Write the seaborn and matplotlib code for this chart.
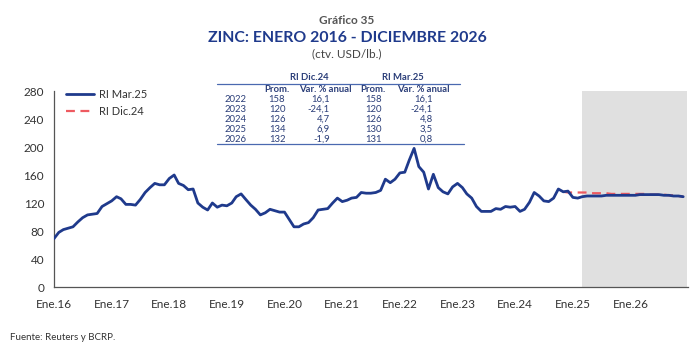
import numpy as np
import pandas as pd
import matplotlib
matplotlib.use("Agg")
import matplotlib.pyplot as plt
from matplotlib.lines import Line2D
import seaborn as sns

# ---------------- data ----------------
start_month = "2016-01-01"
# RI Mar.25: actual Jan-2016..Feb-2025 + projection Mar-2025..Dec-2026 (ctv. USD/lb.)
mar25_values = [
    69, 78, 82, 84, 86, 93, 99, 103, 104, 105, 115, 119,      # 2016
    123, 129, 126, 118, 118, 117, 125, 135, 142, 148, 146, 146,  # 2017
    155, 160, 148, 145, 139, 140, 120, 114, 110, 120, 114, 117,  # 2018
    116, 120, 129, 133, 125, 117, 111, 103, 106, 111, 109, 107,  # 2019
    107, 96, 86, 86, 90, 92, 99, 110, 111, 112, 120, 127,      # 2020
    122, 124, 127, 128, 135, 134, 134, 135, 138, 154, 149, 154,  # 2021
    163, 164, 181, 198, 172, 164, 140, 161, 142, 136, 133, 143,  # 2022
    148, 142, 133, 127, 115, 108, 108, 108, 112, 111, 115, 114,  # 2023
    115, 108, 111, 121, 135, 130, 123, 122, 127, 140, 136, 137,  # 2024
    128, 127, 129, 130, 130, 130, 130, 131, 131, 131, 131, 131,  # 2025
    131, 131, 132, 132, 132, 132, 132, 131, 131, 130, 130, 129,  # 2026
]
# RI Dic.24: projection Nov-2024..Dec-2026
dic24_start = "2024-11-01"
dic24_values = [
    136, 135,
    135, 135, 135, 135, 134, 134, 134, 134, 133, 133, 133, 133,
    133, 133, 133, 133, 132, 132, 132, 132, 131, 131, 130, 129,
]
forecast_start = "2025-03-01"

series_names = ["RI Mar.25", "RI Dic.24"]
series_colors = ["#1F3A8C", "#EE5A60"]

tick_years = list(range(2016, 2028))
xtick_labels = ["Ene.16", "Ene.17", "Ene.18", "Ene.19", "Ene.20", "Ene.21",
                "Ene.22", "Ene.23", "Ene.24", "Ene.25", "Ene.26", ""]
ytick_values = [0, 40, 80, 120, 160, 200, 240, 280]

table_years = ["2022", "2023", "2024", "2025", "2026"]
dic_prom = ["158", "120", "126", "134", "132"]
dic_var = ["16,1", "-24,1", "4,7", "6,9", "-1,9"]
mar_prom = ["158", "120", "126", "130", "131"]
mar_var = ["16,1", "-24,1", "4,8", "3,5", "0,8"]

title_top = "Gráfico 35"
title_main = "ZINC: ENERO 2016 - DICIEMBRE 2026"
title_sub = "(ctv. USD/lb.)"
source_text = "Fuente: Reuters y BCRP."

# ---------------- frames ----------------
df_mar = pd.DataFrame({
    "fecha": pd.date_range(start_month, periods=len(mar25_values), freq="MS"),
    "valor": mar25_values,
})
df_dic = pd.DataFrame({
    "fecha": pd.date_range(dic24_start, periods=len(dic24_values), freq="MS"),
    "valor": dic24_values,
})

# ---------------- plot ----------------
sns.set_style("white")
plt.rcParams["font.family"] = ["Lato", "DejaVu Sans"]

fig = plt.figure(figsize=(7, 3.5), dpi=100)
ax = fig.add_axes([0.077, 0.18, 0.906, 0.56])

x0 = pd.Timestamp(f"{tick_years[0]}-01-01")
x1 = pd.Timestamp(f"{tick_years[-1]}-01-01")
ax.axvspan(pd.Timestamp(forecast_start), x1 - pd.Timedelta(days=10),
           color="#E0E0E0", lw=0, zorder=0)

sns.lineplot(data=df_dic, x="fecha", y="valor", ax=ax, color=series_colors[1],
             lw=1.6, label=series_names[1], zorder=2)
ax.lines[-1].set_dashes([4, 2.5])
sns.lineplot(data=df_mar, x="fecha", y="valor", ax=ax, color=series_colors[0],
             lw=2.0, label=series_names[0], zorder=3)

ax.set_xlim(x0, x1)
ax.set_ylim(0, 280)
ax.set_xticks([pd.Timestamp(f"{y}-01-01") for y in tick_years])
ax.set_xticklabels(xtick_labels)
ax.set_yticks(ytick_values)
ax.set_xlabel("")
ax.set_ylabel("")
for s in ["top", "right"]:
    ax.spines[s].set_visible(False)
for s in ["left", "bottom"]:
    ax.spines[s].set_color("#555555")
    ax.spines[s].set_linewidth(0.9)
ax.tick_params(axis="both", direction="out", length=4, width=0.9,
               color="#555555", labelsize=8.5, labelcolor="#333333", pad=3)
ax.tick_params(axis="x", pad=5)

handles, labels = ax.get_legend_handles_labels()
order = [labels.index(n) for n in series_names]
leg = ax.legend([handles[i] for i in order], [labels[i] for i in order],
                loc="upper left", bbox_to_anchor=(0.012, 1.035), frameon=False,
                fontsize=8, handlelength=2.5, labelspacing=0.6,
                handletextpad=0.5, borderaxespad=0)
for t in leg.get_texts():
    t.set_color("#333333")

# ---------------- titles ----------------
def fy(py):
    return 1 - py / 350.0

fig.text(347 / 700, fy(20), title_top, ha="center", va="center",
         fontsize=8.5, fontweight="bold", color="#555555")
fig.text(347 / 700, fy(38), title_main, ha="center", va="center",
         fontsize=11.4, fontweight="bold", color="#1F3A8C")
fig.text(347 / 700, fy(54), title_sub, ha="center", va="center",
         fontsize=8.5, color="#444444")
fig.text(10 / 700, fy(337), source_text, ha="left", va="center",
         fontsize=7, color="#333333")

# ---------------- table ----------------
tcol = "#2A3D78"
lcol = "#4A69B0"
fs = 6.8
fig.text(309 / 700, fy(78), "RI Dic.24", ha="center", va="center",
         fontsize=fs, fontweight="bold", color=tcol)
fig.text(403 / 700, fy(78), "RI Mar.25", ha="center", va="center",
         fontsize=fs, fontweight="bold", color=tcol)
fig.add_artist(Line2D([217 / 700, 460 / 700], [fy(84), fy(84)],
                      transform=fig.transFigure, color=lcol, lw=0.9))
for cx, txt in [(277, "Prom."), (325, "Var. % anual"),
                (373, "Prom."), (423, "Var. % anual")]:
    fig.text(cx / 700, fy(89), txt, ha="center", va="center",
             fontsize=fs, fontweight="bold", color=tcol)
for i, yr in enumerate(table_years):
    py = 99 + 10 * i
    fig.text(225 / 700, fy(py), yr, ha="left", va="center", fontsize=fs, color=tcol)
    fig.text(277 / 700, fy(py), dic_prom[i], ha="center", va="center", fontsize=fs, color=tcol)
    fig.text(330 / 700, fy(py), dic_var[i], ha="right", va="center", fontsize=fs, color=tcol)
    fig.text(374 / 700, fy(py), mar_prom[i], ha="center", va="center", fontsize=fs, color=tcol)
    fig.text(433 / 700, fy(py), mar_var[i], ha="right", va="center", fontsize=fs, color=tcol)
fig.add_artist(Line2D([217 / 700, 464 / 700], [fy(144), fy(144)],
                      transform=fig.transFigure, color=lcol, lw=0.9))

fig.savefig("out.png", dpi=100, facecolor="white")
